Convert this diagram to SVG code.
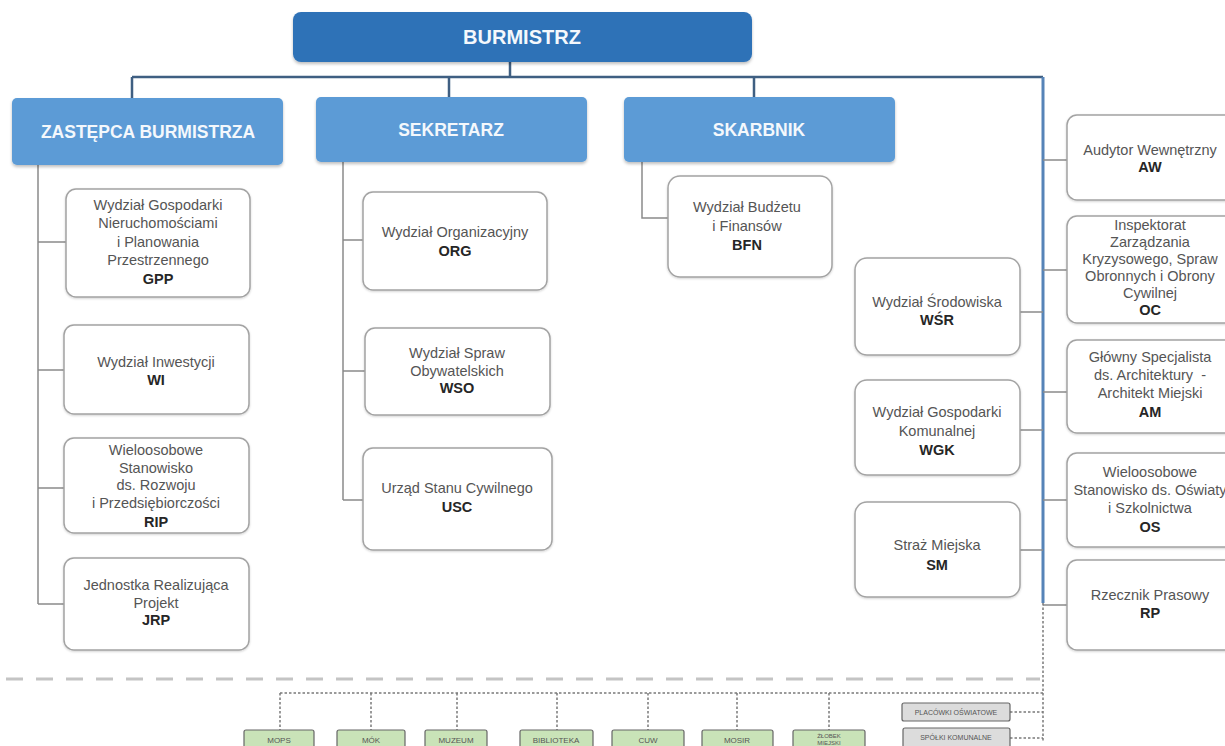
<svg xmlns="http://www.w3.org/2000/svg" width="1225" height="746" viewBox="0 0 1225 746">
<defs>
<filter id="sh" x="-5%" y="-5%" width="110%" height="120%"><feDropShadow dx="0" dy="2" stdDeviation="1.5" flood-color="#000" flood-opacity="0.25"/></filter>
<filter id="sh2" x="-5%" y="-5%" width="110%" height="120%"><feDropShadow dx="0" dy="1" stdDeviation="1" flood-color="#000" flood-opacity="0.18"/></filter>
</defs>
<style>
text{font-family:"Liberation Sans",Arial,sans-serif;text-anchor:middle}
.top{fill:#2f72b7;filter:url(#sh)}
.head{fill:#5b9bd6;filter:url(#sh)}
.ht{fill:#f4f8fc;font-weight:bold;font-size:17.5px}
.box{fill:#fff;stroke:#a3a3a3;stroke-width:1.5;filter:url(#sh2)}
.t{fill:#555;font-size:14.5px}
.b{fill:#262626;font-size:14.5px;font-weight:bold}
.main{fill:none;stroke:#3f5f82;stroke-width:2.5}
.blue{fill:none;stroke:#5684b8;stroke-width:3}
.thin{fill:none;stroke:#8a8a8a;stroke-width:1.5}
.dot{fill:none;stroke:#7a7a7a;stroke-width:1.5;stroke-dasharray:2.5 2}
.sep{fill:none;stroke:#c4c4c4;stroke-width:3;stroke-dasharray:17 13}
.grn{fill:#c9e3b8;stroke:#666;stroke-width:1.2}
.gry{fill:#dcdcdc;stroke:#666;stroke-width:1.2}
.st{fill:#555;font-size:8px}
</style>
<rect width="1225" height="746" fill="#fff"/>

<g id="connectors">
<path class="main" d="M510 62V77M132 77H1043M132 77V98M449 77V97M754 77V97"/>
<path class="blue" d="M1043 77V603"/>
<path class="thin" d="M38 165V604M38 242H66M38 370H64M38 488H64M38 604H64"/>
<path class="thin" d="M343 162V500M343 240H363M343 371H365M343 500H363"/>
<path class="thin" d="M642 162V218H668"/>
<path class="thin" d="M1020 312H1043M1020 430H1043M1020 550H1043"/>
<path class="thin" d="M1043 160H1067M1043 270H1067M1043 392H1067M1043 500H1067M1043 605H1067"/>
<path class="sep" d="M6 679H1040"/>
<path class="dot" d="M1043 603V742M280 693H1043M280 693V730M371 693V730M457 693V730M557 693V730M648 693V730M737 693V730M829 693V730M1010 712H1043M1010 738H1043"/>
</g>

<g id="burmistrz"><rect class="top" x="293" y="12" width="459" height="50" rx="8"/><text class="ht" x="522" y="44" style="font-size:20px">BURMISTRZ</text></g>
<g id="zastepca"><rect class="head" x="12" y="98" width="271" height="67" rx="5"/><text class="ht" x="148" y="138">ZASTĘPCA BURMISTRZA</text></g>
<g id="sekretarz"><rect class="head" x="316" y="97" width="271" height="65" rx="5"/><text class="ht" x="451" y="136">SEKRETARZ</text></g>
<g id="skarbnik"><rect class="head" x="624" y="97" width="271" height="65" rx="5"/><text class="ht" x="759" y="136">SKARBNIK</text></g>

<g id="gpp"><rect class="box" x="66" y="189" width="184" height="108" rx="10"/>
<text class="t" x="158" y="210">Wydział Gospodarki</text><text class="t" x="158" y="228">Nieruchomościami</text><text class="t" x="158" y="247">i Planowania</text><text class="t" x="158" y="265">Przestrzennego</text><text class="b" x="158" y="284">GPP</text></g>
<g id="wi"><rect class="box" x="64" y="325" width="185" height="89" rx="10"/>
<text class="t" x="156" y="367">Wydział Inwestycji</text><text class="b" x="156" y="385">WI</text></g>
<g id="rip"><rect class="box" x="64" y="438" width="185" height="95" rx="10"/>
<text class="t" x="156" y="455">Wieloosobowe</text><text class="t" x="156" y="473">Stanowisko</text><text class="t" x="156" y="490">ds. Rozwoju</text><text class="t" x="156" y="508">i Przedsiębiorczości</text><text class="b" x="156" y="527">RIP</text></g>
<g id="jrp"><rect class="box" x="64" y="558" width="185" height="92" rx="10"/>
<text class="t" x="156" y="590">Jednostka Realizująca</text><text class="t" x="156" y="608">Projekt</text><text class="b" x="156" y="625">JRP</text></g>

<g id="org"><rect class="box" x="363" y="192" width="184" height="98" rx="10"/>
<text class="t" x="455" y="237">Wydział Organizacyjny</text><text class="b" x="455" y="256">ORG</text></g>
<g id="wso"><rect class="box" x="365" y="328" width="185" height="87" rx="10"/>
<text class="t" x="457" y="358">Wydział Spraw</text><text class="t" x="457" y="376">Obywatelskich</text><text class="b" x="457" y="393">WSO</text></g>
<g id="usc"><rect class="box" x="363" y="448" width="189" height="102" rx="10"/>
<text class="t" x="457" y="493">Urząd Stanu Cywilnego</text><text class="b" x="457" y="512">USC</text></g>

<g id="bfn"><rect class="box" x="668" y="176" width="164" height="101" rx="12"/>
<text class="t" x="747" y="212">Wydział Budżetu</text><text class="t" x="747" y="231">i Finansów</text><text class="b" x="747" y="250">BFN</text></g>

<g id="wsr"><rect class="box" x="855" y="258" width="165" height="97" rx="12"/>
<text class="t" x="937" y="307">Wydział Środowiska</text><text class="b" x="937" y="325">WŚR</text></g>
<g id="wgk"><rect class="box" x="855" y="380" width="165" height="95" rx="12"/>
<text class="t" x="937" y="417">Wydział Gospodarki</text><text class="t" x="937" y="436">Komunalnej</text><text class="b" x="937" y="455">WGK</text></g>
<g id="sm"><rect class="box" x="855" y="502" width="165" height="95" rx="12"/>
<text class="t" x="937" y="550">Straż Miejska</text><text class="b" x="937" y="570">SM</text></g>

<g id="aw"><rect class="box" x="1067" y="115" width="175" height="85" rx="10"/>
<text class="t" x="1150" y="155">Audytor Wewnętrzny</text><text class="b" x="1150" y="172">AW</text></g>
<g id="oc"><rect class="box" x="1067" y="216" width="175" height="107" rx="10"/>
<text class="t" x="1150" y="230">Inspektorat</text><text class="t" x="1150" y="247">Zarządzania</text><text class="t" x="1150" y="264">Kryzysowego, Spraw</text><text class="t" x="1150" y="281">Obronnych i Obrony</text><text class="t" x="1150" y="298">Cywilnej</text><text class="b" x="1150" y="315">OC</text></g>
<g id="am"><rect class="box" x="1067" y="340" width="175" height="93" rx="10"/>
<text class="t" x="1150" y="362">Główny Specjalista</text><text class="t" x="1150" y="380" style="white-space:pre">ds. Architektury  -</text><text class="t" x="1150" y="398">Architekt Miejski</text><text class="b" x="1150" y="417">AM</text></g>
<g id="os"><rect class="box" x="1067" y="453" width="175" height="94" rx="10"/>
<text class="t" x="1150" y="477">Wieloosobowe</text><text class="t" x="1150" y="495">Stanowisko ds. Oświaty</text><text class="t" x="1150" y="513">i Szkolnictwa</text><text class="b" x="1150" y="532">OS</text></g>
<g id="rp"><rect class="box" x="1067" y="560" width="175" height="90" rx="10"/>
<text class="t" x="1150" y="600">Rzecznik Prasowy</text><text class="b" x="1150" y="618">RP</text></g>

<g id="mops"><rect class="grn" x="244" y="730" width="70" height="24" rx="2"/><text class="st" x="279" y="743">MOPS</text></g>
<g id="mok"><rect class="grn" x="337" y="730" width="68" height="24" rx="2"/><text class="st" x="371" y="743">MÓK</text></g>
<g id="muzeum"><rect class="grn" x="425" y="730" width="62" height="24" rx="2"/><text class="st" x="456" y="743">MUZEUM</text></g>
<g id="biblioteka"><rect class="grn" x="520" y="730" width="73" height="24" rx="2"/><text class="st" x="556" y="743">BIBLIOTEKA</text></g>
<g id="cuw"><rect class="grn" x="612" y="730" width="72" height="24" rx="2"/><text class="st" x="648" y="743">CUW</text></g>
<g id="mosir"><rect class="grn" x="702" y="730" width="71" height="24" rx="2"/><text class="st" x="737" y="743">MOSIR</text></g>
<g id="zlobek"><rect class="grn" x="793" y="730" width="72" height="24" rx="2"/><text class="st" x="829" y="738" style="font-size:6px">ŻŁOBEK</text><text class="st" x="829" y="745" style="font-size:6px">MIEJSKI</text></g>
<g id="placowki"><rect class="gry" x="902" y="703" width="108" height="18" rx="2"/><text class="st" x="956" y="715" style="font-size:7px">PLACÓWKI OŚWIATOWE</text></g>
<g id="spolki"><rect class="gry" x="903" y="728" width="107" height="20" rx="2"/><text class="st" x="956" y="740" style="font-size:7px">SPÓŁKI KOMUNALNE</text></g>
</svg>
